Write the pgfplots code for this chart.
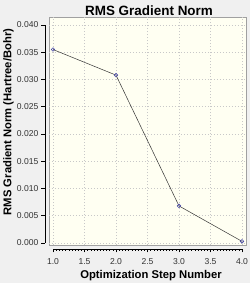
\documentclass[border=0pt]{standalone}
\usepackage{pgfplots}
\pgfplotsset{compat=1.18}
\usepackage{fontspec}
\setmainfont{Liberation Sans}
\definecolor{bgcol}{HTML}{F0F0F0}
\definecolor{cream}{HTML}{FFFFF2}
\definecolor{gridcol}{HTML}{C8C8C8}
\definecolor{boxcol}{HTML}{A0A0A0}
\definecolor{mkcol}{HTML}{4848A8}
\begin{document}
\begin{tikzpicture}[x=1bp,y=1bp]
\useasboundingbox (0,0) rectangle (250,283);
\fill[bgcol] (0,0) rectangle (250,283);
\begin{axis}[
  at={(53bp,40bp)}, anchor=south west,
  scale only axis, width=189bp, height=218bp,
  xmin=1, xmax=4, ymin=0, ymax=0.04,
  clip=false,
  axis x line*=bottom, axis y line*=left,
  axis x line shift=6bp, axis y line shift=8bp,
  axis line style={black, line width=0.6pt, -},
  xtick={1,1.5,2,2.5,3,3.5,4},
  minor x tick num=9,
  ytick={0,0.005,0.01,0.015,0.02,0.025,0.03,0.035,0.04},
  tick align=outside,
  major tick length=3.5bp, minor tick length=2bp,
  tick style={black, line width=0.5pt},
  scaled y ticks=false,
  xticklabel style={/pgf/number format/fixed, /pgf/number format/fixed zerofill, /pgf/number format/precision=1, inner sep=1bp, yshift=-5bp},
  yticklabel style={/pgf/number format/fixed, /pgf/number format/fixed zerofill, /pgf/number format/precision=3, inner sep=1bp, xshift=-2bp},
  /pgf/number format/assume math mode=true,
  ticklabel style={font=\fontsize{8.6}{10}\selectfont, text=black!80},
]
\fill[cream, draw=boxcol, line width=0.4pt] (axis cs:0.9365,-0.00037) rectangle (axis cs:4.063,0.04147);
\pgfplotsinvokeforeach{1,1.5,2,2.5,3,3.5,4}{
  \draw[gridcol, dash pattern=on 1.5bp off 1.5bp, line width=0.5pt] (axis cs:#1,-0.00037) -- (axis cs:#1,0.04147);
}
\pgfplotsinvokeforeach{0,0.005,0.01,0.015,0.02,0.025,0.03,0.035,0.04}{
  \draw[gridcol, dash pattern=on 1.5bp off 1.5bp, line width=0.5pt] (axis cs:0.9365,#1) -- (axis cs:4.063,#1);
}
\addplot[black!80, line width=0.5pt, mark=o, mark size=1.8bp, mark options={mkcol, fill=white, line width=0.6pt}]
  coordinates {(1,0.0355) (2,0.0308) (3,0.0068) (4,0.0003)};
\end{axis}
\node[font=\bfseries\fontsize{13.5}{16}\selectfont] at (149,272) {RMS Gradient Norm};
\node[font=\bfseries\fontsize{11.3}{13}\selectfont] at (151,7.5) {Optimization Step Number};
\node[font=\bfseries\fontsize{11.3}{13}\selectfont, rotate=90] at (8.5,161) {RMS Gradient Norm (Hartree/Bohr)};
\end{tikzpicture}
\end{document}
